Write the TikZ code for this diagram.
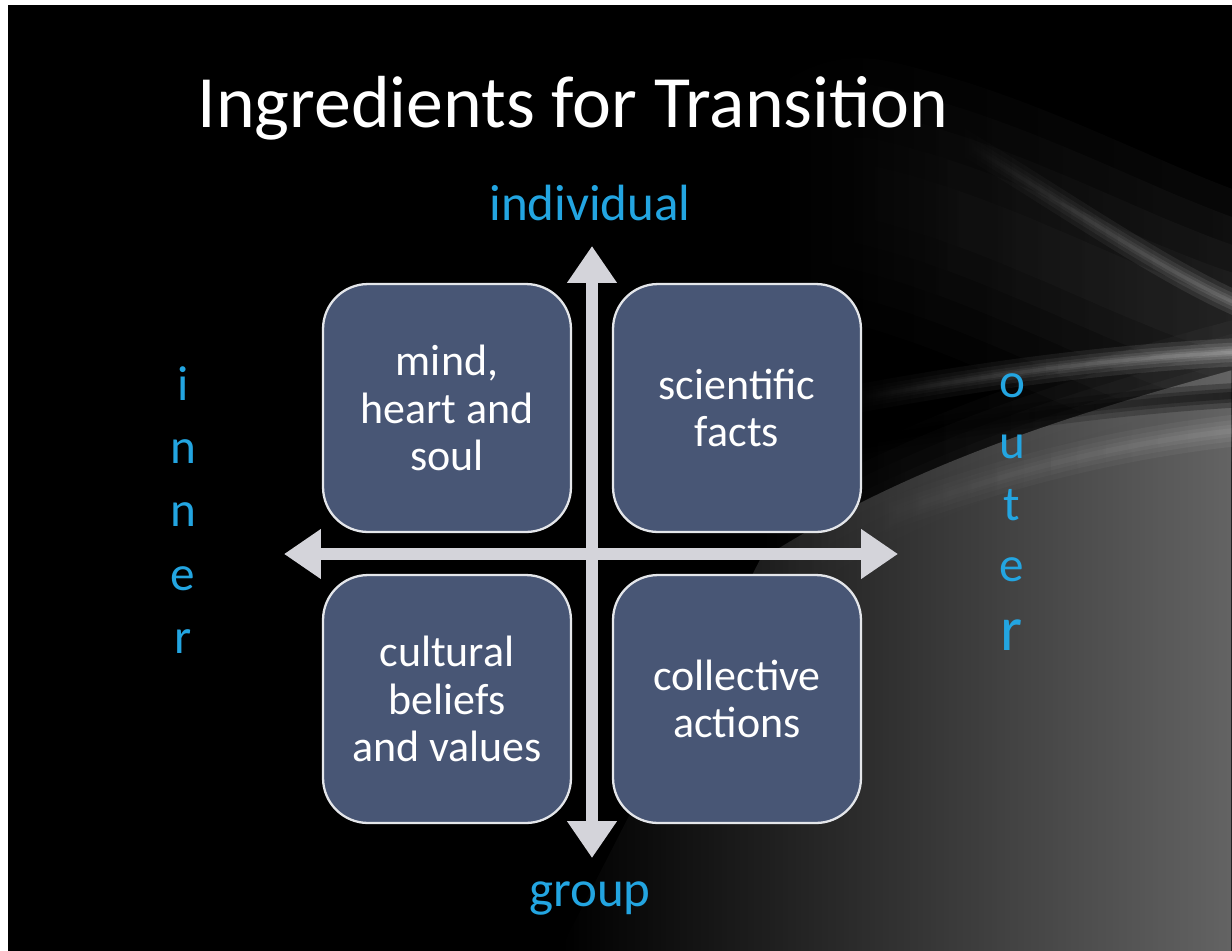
\documentclass[tikz,border=0pt]{standalone}
\usepackage{fontspec}
\setmainfont{Carlito}
\usetikzlibrary{arrows.meta, fadings}
\definecolor{slideblue}{RGB}{72,86,117}
\definecolor{axisgrey}{RGB}{212,212,218}
\definecolor{labelcyan}{RGB}{35,165,225}
\definecolor{smoke}{RGB}{100,100,100}
\tikzfading[name=fadeleft, left color=transparent!100, right color=transparent!0]
\tikzset{quad/.style={draw=white!85!slideblue, line width=1.3pt, fill=slideblue, rounded corners=0.9cm,
        minimum width=4.96cm, minimum height=4.96cm, align=center, text=white,
        font=\fontsize{25}{27}\selectfont},
    axisarrow/.style={draw=axisgrey, line width=6.8pt, {Triangle[width=27pt,length=21pt]}-{Triangle[width=27pt,length=21pt]}},
    sidelabel/.style={text=labelcyan, font=\fontsize{29}{32}\selectfont},
    wisp/.style={line cap=round, path fading=fadeleft}}

\begin{document}
\begin{tikzpicture}[x=0.02cm, y=-0.02cm]
        \useasboundingbox (0,0) rectangle (1232,951);
        \fill[black] (8,5) rectangle (1232,951);

        % background smoke
        \begin{scope}
        \clip (8,5) rectangle (1232,951);
        \fill[smoke, path fading=fadeleft] (560,951) -- (1232,951) -- (1232,370) .. controls (1050,420) and (900,470) .. (760,560) -- cycle;
        \foreach \w in {10,25,40,55}
            \draw[wisp, smoke, opacity=0.1, line width=\w pt] (760,560) .. controls (900,470) and (1050,420) .. (1240,368);
        \foreach \w in {30,60,90,120,150}
            \draw[wisp, smoke, opacity=0.1, line width=\w pt] (860,190) .. controls (1000,220) and (1130,300) .. (1240,330);
        \foreach \w in {2,5,9,14}
            \draw[wisp, white, opacity=0.1, line width=\w pt] (960,140) .. controls (1060,200) and (1160,270) .. (1240,305);
        \foreach \w in {4,8,14}
            \draw[wisp, black, opacity=0.3, line width=\w pt] (840,445) .. controls (1000,418) and (1120,402) .. (1240,395);
        \foreach \w in {2,4,7,11,16}
            \draw[wisp, white, opacity=0.12, line width=\w pt] (850,400) .. controls (1000,372) and (1120,358) .. (1240,352);
        \foreach \w in {3,7,12,18}
            \draw[wisp, white, opacity=0.06, line width=\w pt] (860,525) .. controls (980,480) and (1100,445) .. (1240,430);
        \end{scope}

        \node[text=white, font=\fontsize{42}{48}\selectfont] (title) at (573,108) {Ingredients for Transition};

        % quadrants
        \node[quad] (mind) at (447,408) {mind,\\heart and\\soul};
        \node[quad] (facts) at (737,408) {scientific\\facts};
        \node[quad] (culture) at (447,699) {cultural\\beliefs\\and values};
        \node[quad] (actions) at (737,699) {collective\\actions};

        % axes
        \coordinate (up) at (592,246);
        \coordinate (down) at (592,858);
        \coordinate (left) at (284,554);
        \coordinate (right) at (898,554);
        \draw[axisarrow] (down) -- (up);
        \draw[axisarrow] (left) -- (right);

        \node[sidelabel] (indiv) at (590,203) {individual};
        \node[sidelabel] (group) at (590,898) {group};
        \node[sidelabel, align=center, font=\fontsize{28}{36}\selectfont] (inner) at (183,510) {i\\n\\n\\e\\r};
        \node[sidelabel, align=center, font=\fontsize{28}{35}\selectfont] (outer) at (1012,512) {o\\u\\t\\e\\[4pt]{\fontsize{36}{36}\selectfont r}};
\end{tikzpicture}
\end{document}
